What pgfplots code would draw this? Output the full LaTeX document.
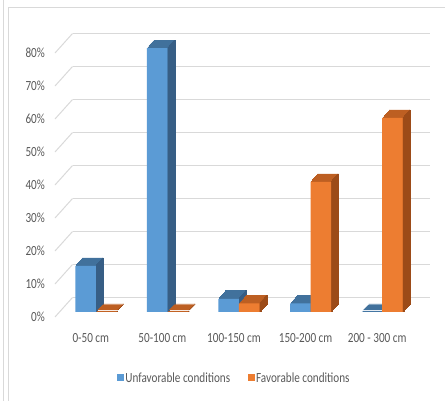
\documentclass[border=0pt]{standalone}
\usepackage{pgfplots}
\pgfplotsset{compat=1.18}
\usepackage{pgfplotstable}
\usepackage{fontspec}
\setmainfont{Carlito}[FakeStretch=0.8]

\definecolor{ublue}{HTML}{5B9BD5}
\definecolor{ubluetop}{HTML}{41719C}
\definecolor{ublueside}{HTML}{375E85}
\definecolor{forange}{HTML}{ED7D31}
\definecolor{forangetop}{HTML}{BD5F22}
\definecolor{forangeside}{HTML}{9C4B18}
\definecolor{gridc}{HTML}{D9D9D9}
\definecolor{labc}{HTML}{595959}

% share of cases per depth class
\pgfplotstableread{
x unfav fav
0 14  0
1 80  0
2 4   2.6
3 2.6 39.4
4 0   58.8
}\depthdata

\begin{document}
\begin{tikzpicture}
\useasboundingbox (0,0) rectangle (445bp,401bp);
\draw[gridc, line width=1bp] (3bp,0) -- (3bp,401bp);
\draw[gridc, line width=1bp] (8bp,0) -- (8bp,393bp) -- (445bp,393bp);
\begin{axis}[
    at={(55bp,84bp)}, anchor=south west,
    scale only axis, width=358bp, height=264bp,
    xmin=-0.5, xmax=4.5, ymin=0, ymax=80,
    clip=false,
    axis line style={draw=none},
    major tick length=0pt,
    xtick={0,...,4},
    xticklabels={0-50 cm,50-100 cm,100-150 cm,150-200 cm,200 - 300 cm},
    ytick={0,10,...,80},
    yticklabel={\pgfmathprintnumber{\tick}\%},
    /pgf/number format/assume math mode=true,
    ticklabel style={font=\fontsize{14}{16}\selectfont, text=labc, inner sep=0pt},
    yticklabel style={anchor=east, xshift=-10bp},
    xticklabel style={anchor=base, yshift=-26bp},
    ymajorgrids,
    major grid style={gridc, line width=1bp, xshift=17.5bp, yshift=19.5bp},
    legend style={at={(axis description cs:0.5,-0.231)}, anchor=center,
        draw=none, fill=none, legend columns=2,
        font=\fontsize{14}{16}\selectfont, text=labc,
        nodes={inner sep=1.5bp},
        /tikz/every even column/.append style={column sep=16bp}},
    legend image code/.code={\fill[#1] (0bp,-3.5bp) rectangle (7bp,3.5bp);},
]
% floor edges of the back wall
\pgfplotsinvokeforeach{0,10,...,80}{
    \draw[gridc, line width=1bp] (axis cs:-0.5,#1) -- ++(17.5bp,19.5bp);
}

% unfavorable: top, side, front
\pgfplotsinvokeforeach{1,...,7}{
    \addplot[forget plot, ybar, bar width=20.5bp, bar shift=-5.25bp,
        fill=ubluetop, draw=ubluetop, line width=0.6bp,
        xshift=#1bp, yshift={5bp+#1*1.143bp}]
        table[x=x, y=unfav] {\depthdata};
}
\pgfplotsinvokeforeach{1,...,7}{
    \addplot[forget plot, ybar, bar width=1bp, bar shift=5bp,
        fill=ublueside, draw=ublueside, line width=0.6bp,
        xshift=#1bp, yshift={5bp+#1*1.143bp}]
        table[x=x, y=unfav] {\depthdata};
}
\addplot[forget plot, ybar, bar width=20.5bp, bar shift=-5.25bp,
    fill=ublue, draw=none, yshift=5bp]
    table[x=x, y=unfav] {\depthdata};

% favorable: top, side, front
\pgfplotsinvokeforeach{1,...,7}{
    \addplot[forget plot, ybar, bar width=20.5bp, bar shift=15.25bp,
        fill=forangetop, draw=forangetop, line width=0.6bp,
        xshift=#1bp, yshift={5bp+#1*1.143bp}]
        table[x=x, y=fav] {\depthdata};
}
\pgfplotsinvokeforeach{1,...,7}{
    \addplot[forget plot, ybar, bar width=1bp, bar shift=25.5bp,
        fill=forangeside, draw=forangeside, line width=0.6bp,
        xshift=#1bp, yshift={5bp+#1*1.143bp}]
        table[x=x, y=fav] {\depthdata};
}
\addplot[forget plot, ybar, bar width=20.5bp, bar shift=15.25bp,
    fill=forange, draw=none, yshift=5bp]
    table[x=x, y=fav] {\depthdata};

\addlegendimage{fill=ublue, draw=none}
\addlegendentry{Unfavorable conditions}
\addlegendimage{fill=forange, draw=none}
\addlegendentry{Favorable conditions}
\end{axis}
\end{tikzpicture}
\end{document}
